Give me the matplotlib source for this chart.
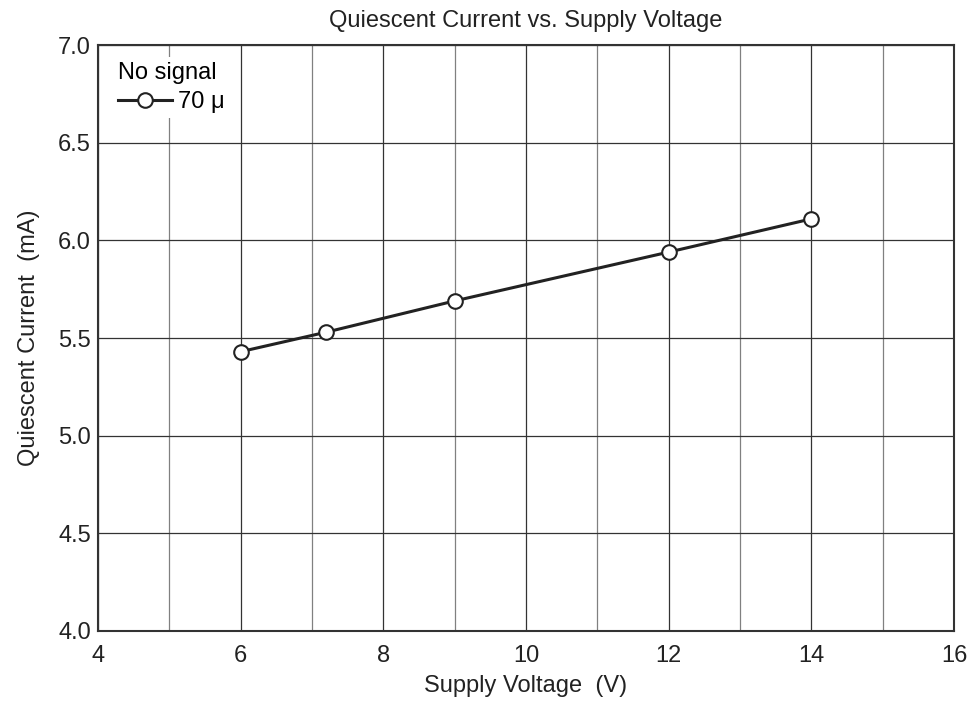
import matplotlib.pyplot as plt
from matplotlib.ticker import MultipleLocator

plt.rcParams['font.family'] = ['Liberation Sans', 'DejaVu Sans']

voltage = [6, 7.2, 9, 12, 14]
current = [5.43, 5.53, 5.69, 5.94, 6.11]
series_label = "70 \u03bc"
legend_title = "No signal"

fig = plt.figure(figsize=(9.73, 7.04), dpi=100)
ax = fig.add_axes([0.1007, 0.1037, 0.8798, 0.8323])

ax.plot(voltage, current, color="#222222", lw=2.2, marker="o", ms=10.5,
        mfc="white", mec="#222222", mew=1.5, label=series_label, zorder=3)

ax.set_xlim(4, 16)
ax.set_ylim(4, 7)
ax.xaxis.set_major_locator(MultipleLocator(2))
ax.xaxis.set_minor_locator(MultipleLocator(1))
ax.yaxis.set_major_locator(MultipleLocator(0.5))
ax.yaxis.set_major_formatter(plt.FormatStrFormatter("%.1f"))
ax.grid(which="major", color="#333333", lw=0.9)
ax.grid(which="minor", axis="x", color="#808080", lw=0.9)
ax.tick_params(which="both", length=0, labelsize=17, colors="#222222")
ax.tick_params(axis="x", pad=10)
ax.tick_params(axis="y", pad=5)
for s in ax.spines.values():
    s.set_color("#333333")
    s.set_linewidth(1.5)

ax.set_title("Quiescent Current vs. Supply Voltage", fontsize=17, color="#222222", pad=13)
ax.set_xlabel("Supply Voltage  (V)", fontsize=17, color="#222222", labelpad=6)
ax.set_ylabel("Quiescent Current  (mA)", fontsize=17, color="#222222", labelpad=13)

leg = ax.legend(loc="upper left", bbox_to_anchor=(0.0175, 0.9795), borderaxespad=0,
                title=legend_title, fontsize=17, title_fontsize=17,
                frameon=True, fancybox=False, framealpha=1, handlelength=2.3,
                handletextpad=0.25, borderpad=0.2, labelspacing=0.3)
leg.get_frame().set_edgecolor("none")
leg.get_frame().set_facecolor("white")
leg._legend_box.align = "left"

fig.savefig("out.png", dpi=100)
